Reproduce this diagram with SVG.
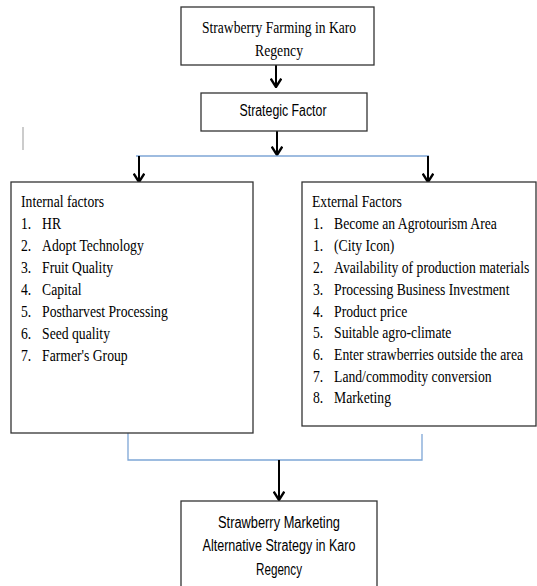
<svg xmlns="http://www.w3.org/2000/svg" width="537" height="586" viewBox="0 0 537 586">
<style>
.box{fill:#fff;stroke:#333;stroke-width:1.3}
.serif{font-family:"Liberation Serif","Times New Roman",serif;font-size:16px;fill:#000}
.serifc{font-family:"Liberation Serif","Times New Roman",serif;font-size:17px;fill:#000;text-anchor:middle}
.sans{font-family:"Liberation Sans",Arial,sans-serif;font-size:16px;fill:#000;text-anchor:middle}
.arrow{stroke:#000;stroke-width:2;fill:none;marker-end:url(#head)}
.blue{stroke:#7ea6d6;stroke-width:1.3;fill:none}
</style>
<defs>
<marker id="head" markerWidth="12" markerHeight="12" refX="9" refY="5" orient="auto" markerUnits="userSpaceOnUse" viewBox="0 0 10 10">
<path d="M2,0.6 L9,5 L2,9.4" fill="none" stroke="#000" stroke-width="2"/>
</marker>
</defs>
<rect width="537" height="586" fill="#fff"/>
<line x1="23" y1="127" x2="23" y2="150" stroke="#999" stroke-width="1"/>
<g id="connectors">
<path class="arrow" d="M276,65 V87"/>
<path class="arrow" d="M277,131 V155"/>
<path class="blue" d="M136,156 H429"/>
<path class="arrow" d="M139,156 V182"/>
<path class="arrow" d="M428,156 V182"/>
<path class="blue" d="M128,433 V460 H422 V434"/>
<path class="arrow" d="M279,460 V500"/>
</g>
<g id="node-farming">
<rect class="box" x="181" y="7" width="193" height="58"/>
<text class="serifc" x="279" y="33" textLength="154" lengthAdjust="spacingAndGlyphs">Strawberry Farming in Karo</text>
<text class="serifc" x="279" y="56" textLength="48" lengthAdjust="spacingAndGlyphs">Regency</text>
</g>
<g id="node-strategic">
<rect class="box" x="201" y="93" width="166" height="38"/>
<text class="sans" x="283" y="116" textLength="87" lengthAdjust="spacingAndGlyphs">Strategic Factor</text>
</g>
<g id="node-internal">
<rect class="box" x="11" y="182" width="242" height="251"/>
<g transform="matrix(0.855,0,0,1,3.045,0)">
<text class="serif" x="21" y="207">Internal factors</text>
<text class="serif" x="21" y="229">1.</text><text class="serif" x="45.6" y="229">HR</text>
<text class="serif" x="21" y="251">2.</text><text class="serif" x="45.6" y="251">Adopt Technology</text>
<text class="serif" x="21" y="273">3.</text><text class="serif" x="45.6" y="273">Fruit Quality</text>
<text class="serif" x="21" y="295">4.</text><text class="serif" x="45.6" y="295">Capital</text>
<text class="serif" x="21" y="317">5.</text><text class="serif" x="45.6" y="317">Postharvest Processing</text>
<text class="serif" x="21" y="339">6.</text><text class="serif" x="45.6" y="339">Seed quality</text>
<text class="serif" x="21" y="361">7.</text><text class="serif" x="45.6" y="361">Farmer's Group</text>
</g>
</g>
<g id="node-external">
<rect class="box" x="302" y="182" width="234" height="244"/>
<g transform="matrix(0.855,0,0,1,45.385,0)">
<text class="serif" x="311.8" y="207">External Factors</text>
<text class="serif" x="313" y="229">1.</text><text class="serif" x="337.6" y="229">Become an Agrotourism Area</text>
<text class="serif" x="313" y="251">1.</text><text class="serif" x="337.6" y="251">(City Icon)</text>
<text class="serif" x="313" y="273">2.</text><text class="serif" x="337.6" y="273">Availability of production materials</text>
<text class="serif" x="313" y="295">3.</text><text class="serif" x="337.6" y="295">Processing Business Investment</text>
<text class="serif" x="313" y="317">4.</text><text class="serif" x="337.6" y="317">Product price</text>
<text class="serif" x="313" y="338">5.</text><text class="serif" x="337.6" y="338">Suitable agro-climate</text>
<text class="serif" x="313" y="360">6.</text><text class="serif" x="337.6" y="360">Enter strawberries outside the area</text>
<text class="serif" x="313" y="382">7.</text><text class="serif" x="337.6" y="382">Land/commodity conversion</text>
<text class="serif" x="313" y="403">8.</text><text class="serif" x="337.6" y="403">Marketing</text>
</g>
</g>
<g id="node-alternative">
<rect class="box" x="181" y="501" width="196" height="100"/>
<text class="sans" x="279" y="528" textLength="122" lengthAdjust="spacingAndGlyphs">Strawberry Marketing</text>
<text class="sans" x="279" y="551" textLength="153" lengthAdjust="spacingAndGlyphs">Alternative Strategy in Karo</text>
<text class="sans" x="279" y="575" textLength="46" lengthAdjust="spacingAndGlyphs">Regency</text>
</g>
</svg>
